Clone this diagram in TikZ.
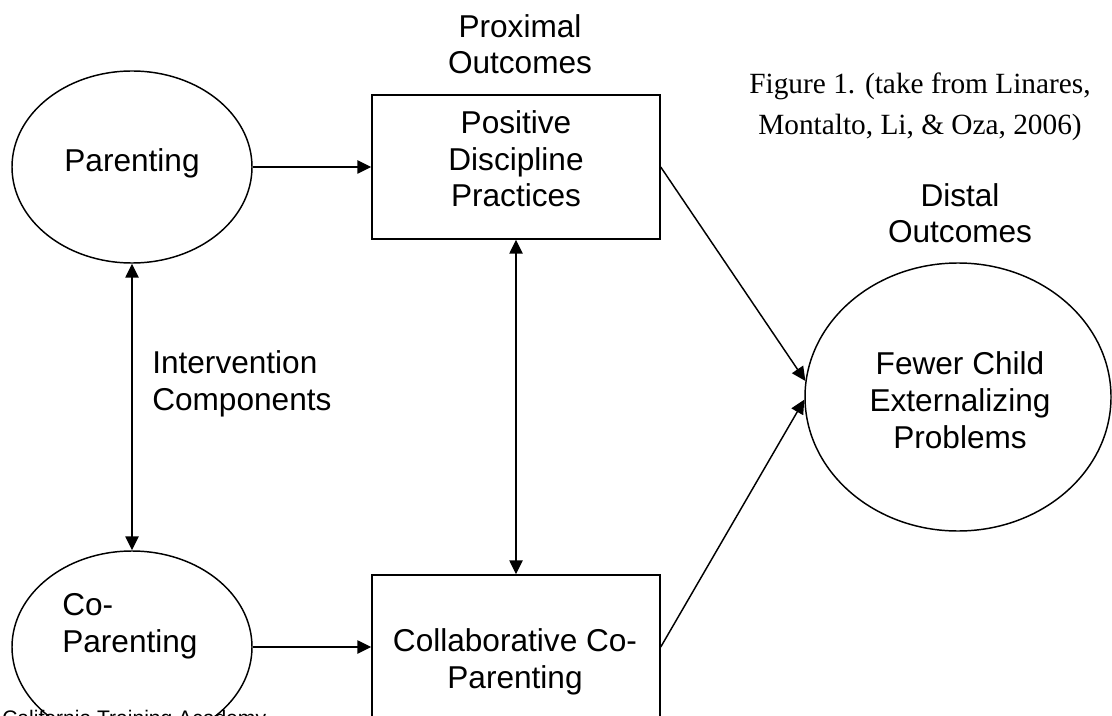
\documentclass[tikz,border=0pt]{standalone}
\usepackage{fontspec}
\setmainfont{Liberation Sans}
\newfontfamily\capfont{Liberation Serif}
\usetikzlibrary{shapes.geometric,arrows.meta}
\tikzset{
  conn/.style={line width=1.1pt,-{Triangle[length=10.5pt,width=10pt]}},
  bconn/.style={line width=1.1pt,{Triangle[length=10.5pt,width=10pt]}-{Triangle[length=10.5pt,width=10pt]}},
  oval/.style={draw,line width=1.1pt,ellipse,inner sep=0pt,minimum width=180pt,minimum height=144pt},
  bigoval/.style={draw,line width=1.1pt,ellipse,inner sep=0pt,minimum width=229.5pt,minimum height=201pt},
  boxx/.style={draw,line width=1.1pt,rectangle,inner sep=0pt,minimum width=216pt,minimum height=108pt},
  lbl/.style={font=\fontsize{23.7}{27.4}\selectfont,inner sep=0pt,align=center,anchor=base},
  lbll/.style={font=\fontsize{23.7}{27.4}\selectfont,inner sep=0pt,align=left,anchor=base west},
}
\begin{document}
\begin{tikzpicture}[x=0.75pt,y=-0.75pt]
\useasboundingbox (0,0) rectangle (1112,716);
\fill[white] (0,0) rectangle (1112,716);
% bottom text (partly cut off)
\node[font=\fontsize{15.8}{19}\selectfont,inner sep=0pt,anchor=base west] (cta) at (2,725) {California Training Academy};
% shapes
\node[oval] (par) at (132,167) {};
\node[oval] (copar) at (132,647) {};
\node[boxx] (pos) at (516,167) {};
\node[boxx] (col) at (516,647) {};
\node[bigoval] (few) at (958,397) {};
% texts (anchor base = baseline of last line)
\node[lbl] (tpar) at (132,172) {Parenting};
\node[lbll] (tcopar) at (62,652) {Co-\\Parenting};
\node[lbl] (tpos) at (516,207) {Positive\\Discipline\\Practices};
\node[lbl] (tcol) at (515,688) {Collaborative Co-\\Parenting};
\node[lbl] (tfew) at (960,448) {Fewer Child\\Externalizing\\Problems};
\node[lbl] (tprox) at (520,74) {Proximal\\Outcomes};
\node[lbl] (tdist) at (960,243) {Distal\\Outcomes};
\node[lbll] (tint) at (152,410) {Intervention\\Components};
\node[inner sep=0pt,align=center,anchor=base,font=\capfont\fontsize{22}{30.8}\selectfont] (cap) at (920,135) {Figure 1. (take from Linares,\\Montalto, Li, \& Oza, 2006)};
% connectors
\draw[conn] (par.east) -- (pos.west);
\draw[conn] (copar.east) -- (col.west);
\draw[bconn] (par.south) -- (copar.north);
\draw[bconn] (pos.south) -- (col.north);
\draw[conn] (pos.east) -- (few.174);
\draw[conn] (col.east) -- (few.181);
\end{tikzpicture}
\end{document}
